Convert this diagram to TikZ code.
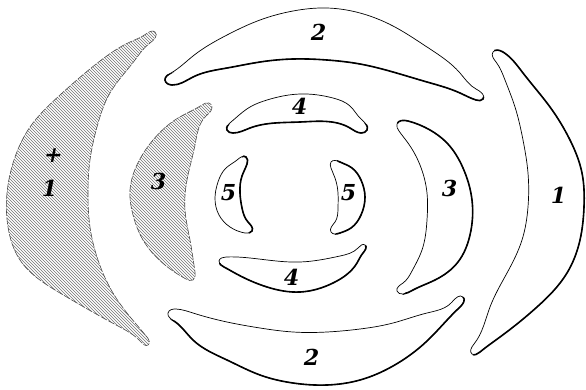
\documentclass[tikz,border=0pt]{standalone}
\usepackage{fontspec}
\setmainfont{Liberation Serif}
\newfontfamily\numfont{DejaVu Serif}[FakeSlant=0.2]
\usetikzlibrary{hobby}
\begin{document}
\begin{tikzpicture}[x=1pt,y=-1pt]
\tikzset{
 blob/.style={draw=black, line width=0.7pt, fill=white, use Hobby shortcut, closed=true},
 heavy/.style={draw=black, line width=1.6pt, use Hobby shortcut, closed=true},
 hatchedge/.style={draw=black!70, line width=0.6pt, dash pattern=on 7pt off 1.5pt, use Hobby shortcut, closed=true},
 hatchclip/.style={use Hobby shortcut, closed=true},
 hatchline/.style={black!55, line width=0.6pt},
 lab/.style={font=\numfont\bfseries\fontsize{22}{22}\selectfont, inner sep=0pt}
}
\fill[white] (0,0) rectangle (586,389);
\useasboundingbox (0,0) rectangle (586,389);

% ---- left 1 (hatched)
\begin{scope}
 \clip[hatchclip] (155,32) .. (146,34) .. (130,42) .. (100,61) .. (60,95) .. (30,127) .. (14,160) .. (7,193) .. (8,227) .. (20,260) .. (60,293) .. (118,326) .. (141,342) .. (148,345) .. (147,337) .. (131,318) .. (113,293) .. (98,260) .. (90,227) .. (88,193) .. (90,160) .. (97,127) .. (110,93) .. (135,60) .. (150,43);
 \foreach \i in {-400,-397,...,200} \draw[hatchline] (\i,0) -- ++(400,400);
\end{scope}
\draw[hatchedge] (155,32) .. (146,34) .. (130,42) .. (100,61) .. (60,95) .. (30,127) .. (14,160) .. (7,193) .. (8,227) .. (20,260) .. (60,293) .. (118,326) .. (141,342) .. (148,345) .. (147,337) .. (131,318) .. (113,293) .. (98,260) .. (90,227) .. (88,193) .. (90,160) .. (97,127) .. (110,93) .. (135,60) .. (150,43);

% ---- left 3 (hatched)
\begin{scope}
 \clip[hatchclip] (209,103) .. (202,105) .. (178,118) .. (153,140) .. (136,167) .. (130,190) .. (133,215) .. (143,240) .. (165,265) .. (186,279) .. (193,280) .. (195,272) .. (190,240) .. (185,210) .. (187,180) .. (195,145) .. (206,116) .. (212,107);
 \foreach \i in {-250,-247,...,250} \draw[hatchline] (\i,0) -- ++(400,400);
\end{scope}
\draw[hatchedge] (209,103) .. (202,105) .. (178,118) .. (153,140) .. (136,167) .. (130,190) .. (133,215) .. (143,240) .. (165,265) .. (186,279) .. (193,280) .. (195,272) .. (190,240) .. (185,210) .. (187,180) .. (195,145) .. (206,116) .. (212,107);

% ---- top 2
\draw[blob] (165,80) .. (171,73) .. (193,56) .. (227,35) .. (260,20) .. (293,11) .. (327,8) .. (360,13) .. (393,26) .. (427,47) .. (460,73) .. (476,89) .. (483,99) .. (476,100) .. (460,93) .. (427,82) .. (393,72) .. (360,64) .. (327,60) .. (293,59) .. (260,62) .. (227,68) .. (193,77) .. (172,85);
\begin{scope}
 \clip (150,80) -- (193,66) -- (227,51) -- (260,41) -- (293,35) -- (327,34) -- (360,38) -- (393,49) -- (427,64) -- (460,83) -- (483,97) -- (500,97) -- (500,140) -- (150,140) -- cycle;
 \draw[heavy] (165,80) .. (171,73) .. (193,56) .. (227,35) .. (260,20) .. (293,11) .. (327,8) .. (360,13) .. (393,26) .. (427,47) .. (460,73) .. (476,89) .. (483,99) .. (476,100) .. (460,93) .. (427,82) .. (393,72) .. (360,64) .. (327,60) .. (293,59) .. (260,62) .. (227,68) .. (193,77) .. (172,85);
\end{scope}

% ---- bottom 2
\draw[blob] (168,313) .. (176,309) .. (193,313) .. (227,322) .. (260,328) .. (293,332) .. (327,332) .. (360,329) .. (393,323) .. (427,313) .. (452,302) .. (463,297) .. (460,307) .. (427,341) .. (393,366) .. (360,380) .. (327,385) .. (293,383) .. (260,375) .. (227,360) .. (193,340) .. (174,321);
\begin{scope}
 \clip (150,313) -- (193,326) -- (227,341) -- (260,351) -- (293,357) -- (327,358) -- (360,354) -- (393,344) -- (427,327) -- (463,297) -- (490,297) -- (490,395) -- (150,395) -- cycle;
 \draw[heavy] (168,313) .. (176,309) .. (193,313) .. (227,322) .. (260,328) .. (293,332) .. (327,332) .. (360,329) .. (393,323) .. (427,313) .. (452,302) .. (463,297) .. (460,307) .. (427,341) .. (393,366) .. (360,380) .. (327,385) .. (293,383) .. (260,375) .. (227,360) .. (193,340) .. (174,321);
\end{scope}

% ---- top 4
\draw[blob] (227,130) .. (231,122) .. (250,107) .. (267,100) .. (300,94) .. (333,98) .. (350,106) .. (361,119) .. (367,130) .. (361,133) .. (350,128) .. (300,122) .. (250,128) .. (233,133);
\begin{scope}
 \clip (218,128) -- (250,118) -- (300,108) -- (350,117) -- (375,128) -- (375,150) -- (218,150) -- cycle;
 \draw[heavy] (227,130) .. (231,122) .. (250,107) .. (267,100) .. (300,94) .. (333,98) .. (350,106) .. (361,119) .. (367,130) .. (361,133) .. (350,128) .. (300,122) .. (250,128) .. (233,133);
\end{scope}

% ---- bottom 4
\draw[blob] (219,261) .. (226,257) .. (250,258) .. (300,262) .. (340,256) .. (358,248) .. (365,245) .. (363,253) .. (357,263) .. (333,283) .. (300,292) .. (267,287) .. (233,272) .. (224,267);
\begin{scope}
 \clip (212,262) -- (250,267) -- (300,277) -- (333,270) -- (366,245) -- (380,245) -- (380,300) -- (212,300) -- cycle;
 \draw[heavy] (219,261) .. (226,257) .. (250,258) .. (300,262) .. (340,256) .. (358,248) .. (365,245) .. (363,253) .. (357,263) .. (333,283) .. (300,292) .. (267,287) .. (233,272) .. (224,267);
\end{scope}

% ---- left 5
\draw[blob] (246,157) .. (237,160) .. (226,168) .. (218,182) .. (215,198) .. (219,215) .. (230,227) .. (245,233) .. (252,231) .. (248,222) .. (242,208) .. (240,193) .. (242,176) .. (247,164);
\begin{scope}
 \clip (246,150) -- (230,180) -- (228,197) -- (232,215) -- (252,236) -- (270,236) -- (270,150) -- cycle;
 \draw[heavy] (246,157) .. (237,160) .. (226,168) .. (218,182) .. (215,198) .. (219,215) .. (230,227) .. (245,233) .. (252,231) .. (248,222) .. (242,208) .. (240,193) .. (242,176) .. (247,164);
\end{scope}

% ---- right 5
\draw[blob] (331,162) .. (340,162) .. (352,168) .. (361,180) .. (365,197) .. (361,215) .. (351,228) .. (340,233) .. (331,232) .. (335,222) .. (338,208) .. (338,193) .. (335,178) .. (331,168);
\begin{scope}
 \clip (331,150) -- (348,180) -- (351,197) -- (349,215) -- (331,240) -- (380,240) -- (380,150) -- cycle;
 \draw[heavy] (331,162) .. (340,162) .. (352,168) .. (361,180) .. (365,197) .. (361,215) .. (351,228) .. (340,233) .. (331,232) .. (335,222) .. (338,208) .. (338,193) .. (335,178) .. (331,168);
\end{scope}

% ---- right 3
\draw[blob] (397,124) .. (408,121) .. (430,130) .. (447,143) .. (463,168) .. (472,200) .. (470,235) .. (458,262) .. (435,280) .. (413,290) .. (403,294) .. (397,291) .. (403,283) .. (412,271) .. (422,250) .. (427,220) .. (427,193) .. (420,165) .. (408,143) .. (399,131);
\begin{scope}
 \clip (390,118) -- (428,143) -- (442,168) -- (450,200) -- (447,235) -- (437,262) -- (420,282) -- (395,300) -- (490,300) -- (490,110) -- (390,110) -- cycle;
 \draw[heavy] (397,124) .. (408,121) .. (430,130) .. (447,143) .. (463,168) .. (472,200) .. (470,235) .. (458,262) .. (435,280) .. (413,290) .. (403,294) .. (397,291) .. (403,283) .. (412,271) .. (422,250) .. (427,220) .. (427,193) .. (420,165) .. (408,143) .. (399,131);
\end{scope}

% ---- right 1
\draw[blob] (493,52) .. (503,52) .. (523,73) .. (550,107) .. (570,140) .. (582,173) .. (584,207) .. (580,240) .. (567,273) .. (537,307) .. (500,337) .. (480,352) .. (472,354) .. (474,344) .. (490,307) .. (507,273) .. (522,240) .. (528,207) .. (528,173) .. (523,140) .. (515,107) .. (505,80) .. (496,62);
\begin{scope}
 \clip (485,40) -- (514,73) -- (532,107) -- (546,140) -- (555,173) -- (556,207) -- (551,240) -- (537,273) -- (513,307) -- (487,337) -- (465,365) -- (600,365) -- (600,40) -- cycle;
 \draw[heavy] (493,52) .. (503,52) .. (523,73) .. (550,107) .. (570,140) .. (582,173) .. (584,207) .. (580,240) .. (567,273) .. (537,307) .. (500,337) .. (480,352) .. (472,354) .. (474,344) .. (490,307) .. (507,273) .. (522,240) .. (528,207) .. (528,173) .. (523,140) .. (515,107) .. (505,80) .. (496,62);
\end{scope}

% ---- labels
\node[lab] (t2a) at (317,32) {2};
\node[lab] (t2b) at (310,357) {2};
\node[lab] (t4a) at (298,106) {4};
\node[lab] (t4b) at (290,277) {4};
\node[lab] (t5a) at (227,193) {5};
\node[lab] (t5b) at (347,193) {5};
\node[lab] (t3a) at (157,181) {3};
\node[lab] (t3b) at (448,188) {3};
\node[lab] (t1b) at (557,195) {1};
\node[lab] (t1a) at (48,188) {1};
\node[lab] (tplus) at (52,156) {+};
\end{tikzpicture}
\end{document}
